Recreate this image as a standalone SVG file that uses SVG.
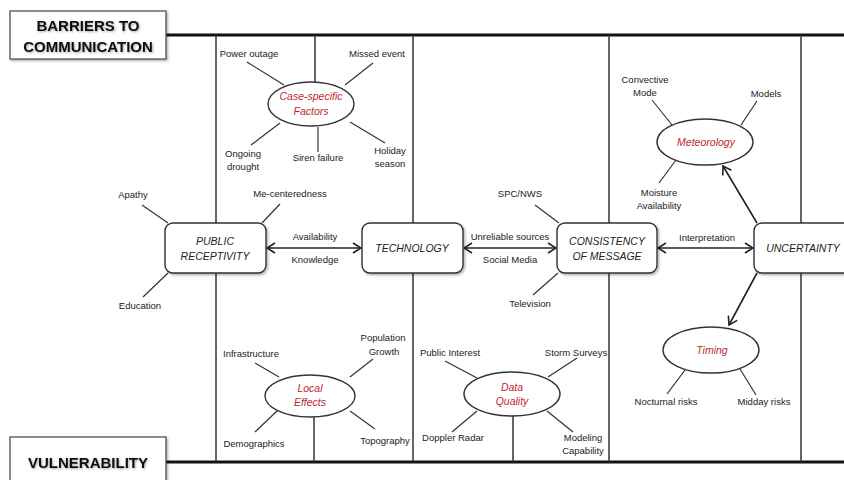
<svg xmlns="http://www.w3.org/2000/svg" width="844" height="480" viewBox="0 0 844 480">
<style>
.frame{stroke:#111;stroke-width:3;fill:none}
.vl{stroke:#333;stroke-width:1.5;fill:none}
.sp{stroke:#333;stroke-width:1.2;fill:none}
.box{fill:#fff;stroke:#333;stroke-width:1.4}
.hdr{fill:#fff;stroke:#444;stroke-width:1.2}
.ell{fill:#fff;stroke:#333;stroke-width:1.4}
.lbl{font-family:"Liberation Sans",Arial,sans-serif;font-size:9.5px;fill:#222;text-anchor:middle}
.bt{font-family:"Liberation Sans",Arial,sans-serif;font-size:10.5px;font-style:italic;fill:#222;text-anchor:middle}
.et{font-family:"Liberation Sans",Arial,sans-serif;font-size:10.5px;font-style:italic;fill:#c0272d;text-anchor:middle}
.ht{font-family:"Liberation Sans",Arial,sans-serif;font-size:15px;font-weight:bold;fill:#111;text-anchor:middle}
.ar{stroke:#222;stroke-width:1.6;fill:none;marker-start:url(#ah);marker-end:url(#ah)}
.ar1{stroke:#222;stroke-width:1.6;fill:none;marker-end:url(#ah)}
</style>
<defs>
<marker id="ah" viewBox="0 0 10 12" refX="9" refY="6" markerWidth="10" markerHeight="12" markerUnits="userSpaceOnUse" orient="auto-start-reverse">
<path d="M1,1 L9,6 L1,11" fill="none" stroke="#222" stroke-width="1.6"/>
</marker>
<filter id="sh" x="-10%" y="-10%" width="130%" height="140%">
<feDropShadow dx="1.5" dy="1.5" stdDeviation="1.2" flood-color="#000" flood-opacity="0.3"/>
</filter>
<filter id="tsh" x="-10%" y="-30%" width="120%" height="160%">
<feDropShadow dx="1" dy="1" stdDeviation="0.8" flood-color="#000" flood-opacity="0.35"/>
</filter>
</defs>

<g id="frame">
<line class="frame" x1="166" y1="35" x2="844" y2="35"/>
<line class="frame" x1="166" y1="462" x2="844" y2="462"/>
</g>

<g id="connectors">
<line class="vl" x1="216" y1="35" x2="216" y2="223"/>
<line class="vl" x1="216" y1="273" x2="216" y2="462"/>
<line class="vl" x1="315" y1="35" x2="315" y2="82"/>
<line class="vl" x1="314" y1="417" x2="314" y2="462"/>
<line class="vl" x1="413" y1="35" x2="413" y2="223"/>
<line class="vl" x1="413" y1="273" x2="413" y2="462"/>
<line class="vl" x1="513" y1="416" x2="513" y2="462"/>
<line class="vl" x1="609" y1="35" x2="609" y2="223"/>
<line class="vl" x1="609" y1="273" x2="609" y2="462"/>
<line class="vl" x1="801" y1="35" x2="801" y2="223"/>
<line class="vl" x1="801" y1="273" x2="801" y2="462"/>

<line class="sp" x1="247" y1="62" x2="284" y2="85"/>
<line class="sp" x1="373" y1="63" x2="345" y2="85"/>
<line class="sp" x1="280" y1="123" x2="251" y2="145"/>
<line class="sp" x1="318" y1="127" x2="318" y2="152"/>
<line class="sp" x1="350" y1="122" x2="385" y2="143"/>

<line class="sp" x1="652" y1="100" x2="672" y2="125"/>
<line class="sp" x1="757" y1="101" x2="741" y2="125"/>
<line class="sp" x1="676" y1="160" x2="659" y2="183"/>

<line class="sp" x1="142" y1="205" x2="168" y2="223"/>
<line class="sp" x1="280" y1="204" x2="262" y2="223"/>
<line class="sp" x1="168" y1="273" x2="143" y2="297"/>

<line class="sp" x1="535" y1="205" x2="559" y2="223"/>
<line class="sp" x1="558" y1="273" x2="533" y2="295"/>

<line class="sp" x1="685" y1="370" x2="667" y2="394"/>
<line class="sp" x1="740" y1="369" x2="756" y2="395"/>

<line class="sp" x1="445" y1="361" x2="477" y2="378"/>
<line class="sp" x1="577" y1="358" x2="548" y2="377"/>
<line class="sp" x1="477" y1="411" x2="452" y2="432"/>
<line class="sp" x1="547" y1="411" x2="573" y2="432"/>

<line class="sp" x1="255" y1="363" x2="279" y2="377"/>
<line class="sp" x1="373" y1="359" x2="350" y2="377"/>
<line class="sp" x1="278" y1="410" x2="255" y2="432"/>
<line class="sp" x1="350" y1="411" x2="375" y2="429"/>

<line class="ar" x1="267" y1="248" x2="361" y2="248"/>
<line class="ar" x1="464" y1="248" x2="556" y2="248"/>
<line class="ar" x1="658" y1="248" x2="753" y2="248"/>
<line class="ar1" x1="757" y1="223" x2="723" y2="166"/>
<line class="ar1" x1="757" y1="273" x2="729" y2="325"/>
</g>

<g id="barriers">
<rect class="hdr" x="10" y="11" width="156" height="48" filter="url(#sh)"/>
<text class="ht" x="88" y="31" filter="url(#tsh)">BARRIERS TO</text>
<text class="ht" x="88" y="52" filter="url(#tsh)">COMMUNICATION</text>
</g>
<g id="vulnerability">
<rect class="hdr" x="10" y="437" width="156" height="50" filter="url(#sh)"/>
<text class="ht" x="88" y="468" filter="url(#tsh)">VULNERABILITY</text>
</g>

<g id="public-receptivity">
<rect class="box" x="165" y="223" width="101" height="50" rx="8" filter="url(#sh)"/>
<text class="bt" x="215" y="245">PUBLIC</text>
<text class="bt" x="215" y="260">RECEPTIVITY</text>
</g>
<g id="technology">
<rect class="box" x="362" y="223" width="101" height="50" rx="8" filter="url(#sh)"/>
<text class="bt" x="412" y="252">TECHNOLOGY</text>
</g>
<g id="consistency">
<rect class="box" x="557" y="223" width="100" height="50" rx="8" filter="url(#sh)"/>
<text class="bt" x="607" y="245">CONSISTENCY</text>
<text class="bt" x="607" y="260">OF MESSAGE</text>
</g>
<g id="uncertainty">
<rect class="box" x="754" y="223" width="100" height="50" rx="8" filter="url(#sh)"/>
<text class="bt" x="803" y="252">UNCERTAINTY</text>
</g>

<g id="case-specific">
<ellipse class="ell" cx="311" cy="104" rx="43" ry="22"/>
<text class="et" x="311" y="100">Case-specific</text>
<text class="et" x="311" y="115">Factors</text>
</g>
<g id="meteorology">
<ellipse class="ell" cx="705" cy="142" rx="48" ry="23"/>
<text class="et" x="706" y="146">Meteorology</text>
</g>
<g id="timing">
<ellipse class="ell" cx="711" cy="350" rx="48" ry="23"/>
<text class="et" x="712" y="354">Timing</text>
</g>
<g id="data-quality">
<ellipse class="ell" cx="512" cy="394" rx="48" ry="22"/>
<text class="et" x="512" y="391">Data</text>
<text class="et" x="512" y="405">Quality</text>
</g>
<g id="local-effects">
<ellipse class="ell" cx="310" cy="396" rx="45" ry="21"/>
<text class="et" x="310" y="392">Local</text>
<text class="et" x="310" y="406">Effects</text>
</g>

<g id="labels">
<text class="lbl" x="249" y="57">Power outage</text>
<text class="lbl" x="377" y="57">Missed event</text>
<text class="lbl" x="243" y="157">Ongoing</text>
<text class="lbl" x="243" y="170">drought</text>
<text class="lbl" x="318" y="161">Siren failure</text>
<text class="lbl" x="390" y="154">Holiday</text>
<text class="lbl" x="390" y="167">season</text>
<text class="lbl" x="133" y="198">Apathy</text>
<text class="lbl" x="290" y="197">Me-centeredness</text>
<text class="lbl" x="140" y="309">Education</text>
<text class="lbl" x="315" y="240">Availability</text>
<text class="lbl" x="315" y="263">Knowledge</text>
<text class="lbl" x="510" y="240">Unreliable sources</text>
<text class="lbl" x="510" y="263">Social Media</text>
<text class="lbl" x="707" y="241">Interpretation</text>
<text class="lbl" x="520" y="197">SPC/NWS</text>
<text class="lbl" x="530" y="307">Television</text>
<text class="lbl" x="645" y="83">Convective</text>
<text class="lbl" x="645" y="96">Mode</text>
<text class="lbl" x="766" y="97">Models</text>
<text class="lbl" x="659" y="196">Moisture</text>
<text class="lbl" x="659" y="209">Availability</text>
<text class="lbl" x="666" y="405">Nocturnal risks</text>
<text class="lbl" x="764" y="405">Midday risks</text>
<text class="lbl" x="450" y="356">Public Interest</text>
<text class="lbl" x="576" y="356">Storm Surveys</text>
<text class="lbl" x="453" y="441">Doppler Radar</text>
<text class="lbl" x="583" y="441">Modeling</text>
<text class="lbl" x="583" y="454">Capability</text>
<text class="lbl" x="251" y="357">Infrastructure</text>
<text class="lbl" x="383" y="341">Population</text>
<text class="lbl" x="384" y="355">Growth</text>
<text class="lbl" x="254" y="447">Demographics</text>
<text class="lbl" x="385" y="444">Topography</text>
</g>
</svg>
